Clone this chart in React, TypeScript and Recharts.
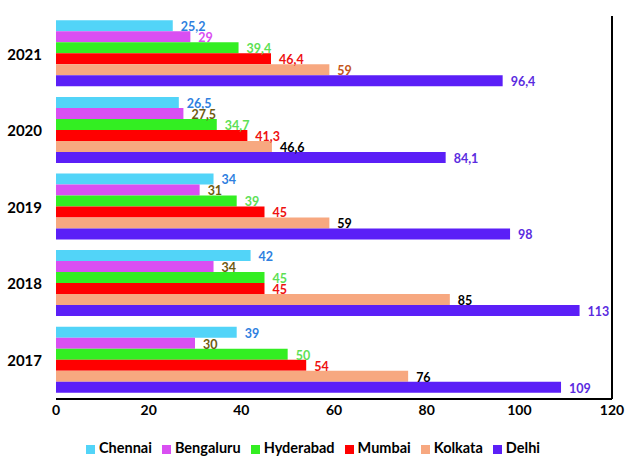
import React from 'react';
import {
  BarChart,
  Bar,
  XAxis,
  YAxis,
  Legend,
  LabelList,
  ReferenceLine
} from 'recharts';

// Years, top to bottom as drawn
const years = ['2021', '2020', '2019', '2018', '2017'];

const chennai = [25.2, 26.5, 34, 42, 39];
const bengaluru = [29, 27.5, 31, 34, 30];
const hyderabad = [39.4, 34.7, 39, 45, 50];
const mumbai = [46.4, 41.3, 45, 45, 54];
const kolkata = [59, 46.6, 59, 85, 76];
const delhi = [96.4, 84.1, 98, 113, 109];

const xTicks = [0, 20, 40, 60, 80, 100, 120];

const FONT = 'Lato, "Open Sans", sans-serif';

const data = years.map((year, i) => ({
  year,
  Chennai: chennai[i],
  Bengaluru: bengaluru[i],
  Hyderabad: hyderabad[i],
  Mumbai: mumbai[i],
  Kolkata: kolkata[i],
  Delhi: delhi[i]
}));

// bar fill + label colour; some series change label colour after the first year
const series = [
  { key: 'Chennai', fill: '#52d4f8', label: () => '#2f7fe0' },
  { key: 'Bengaluru', fill: '#d94ff2', label: (i: number) => (i === 0 ? '#d94ff2' : '#6e5a10') },
  { key: 'Hyderabad', fill: '#33ee22', label: () => '#5ddf55' },
  { key: 'Mumbai', fill: '#ff0000', label: () => '#ee1111' },
  { key: 'Kolkata', fill: '#f7a880', label: (i: number) => (i === 0 ? '#c4561a' : '#000000') },
  { key: 'Delhi', fill: '#5b1ff7', label: () => '#5a2be0' }
];

const fmt = (v: number) => String(v).replace('.', ',');

const makeLabel = (colorFor: (i: number) => string) => (props: any) => {
  const { x, y, width, height, value, index } = props;
  return (
    <text
      x={x + width + 8}
      y={y + height / 2 + 1}
      fill={colorFor(index)}
      fontSize={12.5}
      fontWeight={700}
      fontFamily={FONT}
      dominantBaseline="central"
    >
      {fmt(value)}
    </text>
  );
};

// keep legend in series order instead of alphabetical
const legendOrder = (item: any) => series.findIndex(s => s.key === item.value);

export default function App() {
  return (
    <div style={{ position: 'absolute', left: 0, top: 0, background: '#fff' }}>
      <BarChart
        width={640}
        height={473}
        data={data}
        layout="vertical"
        margin={{ top: 16, right: 28, bottom: 8, left: 0 }}
        barGap={0}
        barCategoryGap="5.6%"
      >
        <XAxis
          type="number"
          domain={[0, 120]}
          ticks={xTicks}
          interval={0}
          height={40}
          tickLine={false}
          tickSize={0}
          tickMargin={6}
          axisLine={{ stroke: '#000', strokeWidth: 2 }}
          tick={{ fill: '#000', fontSize: 14, fontWeight: 700, fontFamily: FONT }}
        />
        <XAxis
          xAxisId="top"
          orientation="top"
          type="number"
          domain={[0, 120]}
          height={0}
          tick={false}
          tickLine={false}
          axisLine={{ stroke: '#000', strokeWidth: 2 }}
        />
        <YAxis
          type="category"
          dataKey="year"
          width={56}
          tickLine={false}
          tickSize={0}
          tickMargin={14}
          axisLine={false}
          tick={{ fill: '#000', fontSize: 15, fontWeight: 700, fontFamily: FONT }}
        />
        <ReferenceLine x={120} stroke="#000" strokeWidth={2} />
        {series.map(s => (
          <Bar key={s.key} dataKey={s.key} fill={s.fill} isAnimationActive={false}>
            <LabelList dataKey={s.key} content={makeLabel(s.label)} />
          </Bar>
        ))}
        <Legend
          verticalAlign="bottom"
          align="center"
          iconType="square"
          iconSize={9}
          height={26}
          itemSorter={legendOrder}
          wrapperStyle={{ paddingLeft: 12, fontFamily: FONT, fontSize: 14.5, fontWeight: 700 }}
          formatter={(value: string) => <span style={{ color: '#000' }}>{value}</span>}
        />
      </BarChart>
    </div>
  );
}
